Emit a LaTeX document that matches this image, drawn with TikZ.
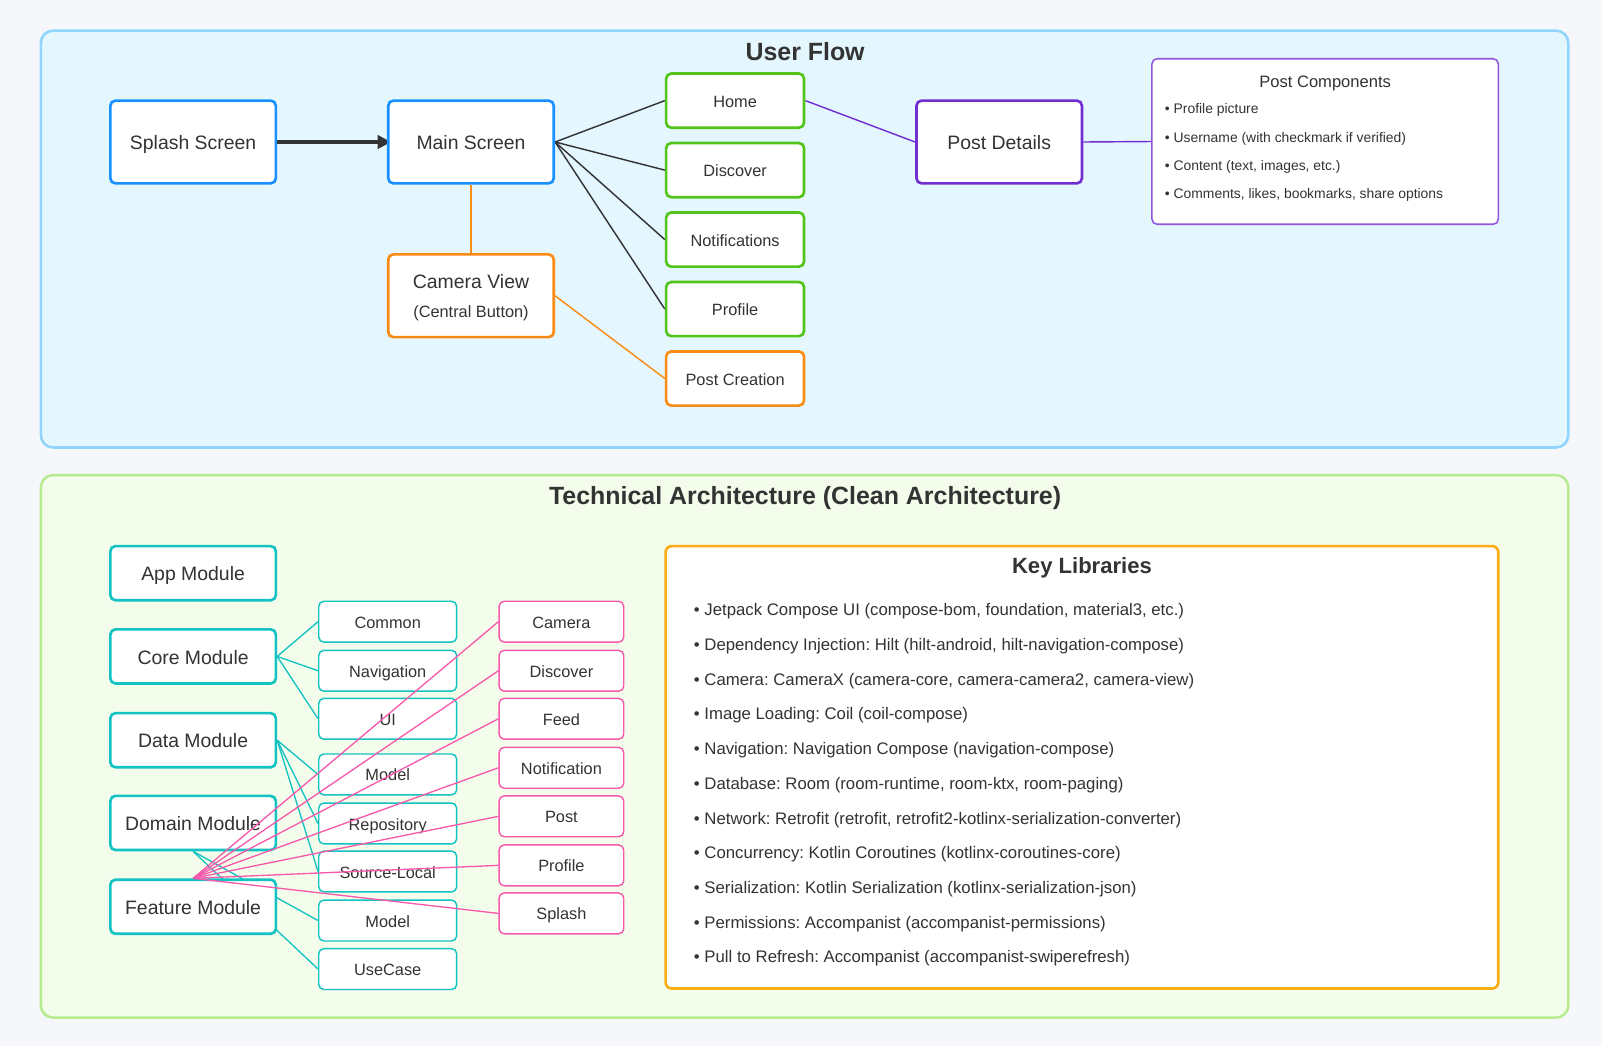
\documentclass[tikz,border=0pt]{standalone}
\usepackage{fontspec}
\setmainfont{Liberation Sans}
\usetikzlibrary{arrows.meta}
\definecolor{txt}{HTML}{333333}
\definecolor{pagebg}{HTML}{F5F7FA}
\definecolor{ufill}{HTML}{E4F6FE}
\definecolor{uborder}{HTML}{91D5FF}
\definecolor{tfill}{HTML}{F4FDEB}
\definecolor{tborder}{HTML}{B7EB8F}
\definecolor{cblue}{HTML}{1890FF}
\definecolor{corange}{HTML}{FA8C16}
\definecolor{cgreen}{HTML}{52C41A}
\definecolor{cpurple}{HTML}{722ED1}
\definecolor{cpurplelt}{HTML}{9254DE}
\definecolor{cteal}{HTML}{13C2C2}
\definecolor{cpink}{HTML}{F759AB}
\definecolor{cgold}{HTML}{FAAD14}
\pgfdeclarelayer{back}
\pgfdeclarelayer{edge}
\pgfdeclarelayer{top}
\pgfsetlayers{back,edge,main,top}
\frenchspacing
\begin{document}
\frenchspacing
\begin{tikzpicture}[x=1pt,y=-1pt,
  tc/.style={text height=#1, text depth=0pt},
  panel/.style={rounded corners=12pt, line width=2.5pt, inner sep=0pt},
  ptitle/.style={tc=19.5pt, font=\bfseries\fontsize{24.4}{29}\selectfont, text=txt, inner sep=0pt},
  bigbase/.style={draw, rounded corners=5pt, fill=white, line width=2.6pt,
    minimum width=162pt, minimum height=81pt, text=txt, align=center,
    font=\fontsize{19}{23}\selectfont, inner sep=0pt},
  bigbox/.style={bigbase, tc=15.2pt},
  modbox/.style={bigbox, draw=cteal, minimum height=53pt},
  scrbox/.style={tc=12.8pt, draw, rounded corners=5pt, fill=white, line width=2.6pt,
    minimum width=135pt, minimum height=53pt, text=txt,
    font=\fontsize{16}{19}\selectfont, inner sep=0pt},
  subbox/.style={tc=12.8pt, draw=cteal, rounded corners=5pt, fill=white, line width=1.4pt,
    minimum width=135pt, minimum height=40pt, text=txt,
    font=\fontsize{16}{19}\selectfont, inner sep=0pt},
  featbox/.style={subbox, draw=cpink, minimum width=122pt},
  txtnode/.style={text=txt, inner sep=0pt, anchor=west},
  flowline/.style={draw=txt, line width=1.4pt},
  tealline/.style={draw=cteal, line width=1.3pt},
  pinkline/.style={draw=cpink, line width=1.3pt}
]
\useasboundingbox (0,0) rectangle (1568,1024);
\begin{pgfonlayer}{back}
  \fill[pagebg] (0,0) rectangle (1568,1024);
  \node[panel, draw=uborder, fill=ufill, minimum width=1495pt, minimum height=408pt] (ufpanel) at (787.5,234) {};
  \node[panel, draw=tborder, fill=tfill, minimum width=1495pt, minimum height=531pt] (tapanel) at (787.5,730.5) {};
\end{pgfonlayer}

% ---------- User Flow ----------
\node[ptitle] (uftitle) at (788,49) {User Flow};

\node[bigbox, draw=cblue] (splash) at (189,139) {Splash Screen};
\node[bigbox, draw=cblue] (main) at (461,139) {Main Screen};
\node[bigbase, draw=corange, text depth=0pt] (camview) at (461,289.5)
  {Camera View\\[5pt]{\fontsize{16}{19}\selectfont (Central Button)}};

\node[scrbox, draw=cgreen] (home) at (719.5,98.5) {Home};
\node[scrbox, draw=cgreen] (discover) at (719.5,166.5) {Discover};
\node[scrbox, draw=cgreen] (notif) at (719.5,234.5) {Notifications};
\node[scrbox, draw=cgreen] (profile) at (719.5,302.5) {Profile};
\node[scrbox, draw=corange] (postcre) at (719.5,370.5) {Post Creation};

\node[bigbox, draw=cpurple] (postdet) at (978,139) {Post Details};

\node[draw=cpurplelt, rounded corners=5pt, fill=white, line width=1.5pt,
  minimum width=339pt, minimum height=162pt, inner sep=0pt] (postcomp) at (1297,138.5) {};
\node[tc=13pt, text=txt, inner sep=0pt, font=\fontsize{16.2}{19}\selectfont] (pctitle) at (1297,79) {Post Components};
\begin{scope}[every node/.style={txtnode, tc=10.9pt, font=\fontsize{13.6}{16}\selectfont}]
\node (pc1) at (1140,106) {• Profile picture};
\node (pc2) at (1140,134) {• Username (with checkmark if verified)};
\node (pc3) at (1140,161) {• Content (text, images, etc.)};
\node (pc4) at (1140,189) {• Comments, likes, bookmarks, share options};
\end{scope}

\begin{pgfonlayer}{edge}
  \draw[txt, line width=3pt, -{Triangle[length=13pt,width=13pt]}] (splash.east) -- ([xshift=4pt]main.west);
  \draw[flowline] (main.east) -- (home.west);
  \draw[flowline] (main.east) -- (discover.west);
  \draw[flowline] (main.east) -- (notif.west);
  \draw[flowline] (main.east) -- (profile.west);
  \draw[draw=corange, line width=1.4pt] (main.south) -- (camview.north);
  \draw[draw=corange, line width=1.4pt] (camview.east) -- (postcre.west);
  \draw[draw=cpurple, line width=1.4pt] (home.east) -- (postdet.west);
  \draw[draw=cpurple, line width=1.4pt] (postdet.east) -- (postcomp.west);
\end{pgfonlayer}

% ---------- Technical Architecture ----------
\node[ptitle] (tatitle) at (788,484) {Technical Architecture (Clean Architecture)};

\node[modbox] (app) at (189,561) {App Module};
\node[modbox] (core) at (189,642.5) {Core Module};
\node[modbox] (data) at (189,724.5) {Data Module};
\node[modbox] (domain) at (189,805.5) {Domain Module};
\node[modbox] (feature) at (189,887.5) {Feature Module};

\node[subbox] (common) at (379.5,608.5) {Common};
\node[subbox] (navig) at (379.5,656.5) {Navigation};
\node[subbox] (ui) at (379.5,703.5) {UI};
\node[subbox] (dmodel) at (379.5,758) {Model};
\node[subbox] (repo) at (379.5,806) {Repository};
\node[subbox] (srclocal) at (379.5,853) {Source-Local};
\node[subbox] (mmodel) at (379.5,901) {Model};
\node[subbox] (usecase) at (379.5,948.5) {UseCase};

\node[featbox] (fcamera) at (549.5,608.5) {Camera};
\node[featbox] (fdiscover) at (549.5,656.5) {Discover};
\node[featbox] (ffeed) at (549.5,703.5) {Feed};
\node[featbox] (fnotif) at (549.5,751.5) {Notification};
\node[featbox] (fpost) at (549.5,799) {Post};
\node[featbox] (fprofile) at (549.5,847) {Profile};
\node[featbox] (fsplash) at (549.5,894) {Splash};

\begin{pgfonlayer}{edge}
  \draw[tealline] (core.east) -- (common.west);
  \draw[tealline] (core.east) -- (navig.west);
  \draw[tealline] (core.east) -- (ui.west);
  \draw[tealline] (data.east) -- (dmodel.west);
  \draw[tealline] (data.east) -- (repo.west);
  \draw[tealline] (data.east) -- (srclocal.west);
  \draw[tealline] (domain.south) -- (mmodel.west);
  \draw[tealline] (domain.south) -- (usecase.west);
\end{pgfonlayer}

\begin{pgfonlayer}{top}
  \foreach \t in {fcamera,fdiscover,ffeed,fnotif,fpost,fprofile,fsplash}
    \draw[pinkline] (feature.north) -- (\t.west);
\end{pgfonlayer}

\node[draw=cgold, rounded corners=6pt, fill=white, line width=2.6pt,
  minimum width=815pt, minimum height=433pt, inner sep=0pt] (keylib) at (1059,751) {};
\node[tc=17.3pt, text=txt, inner sep=0pt, font=\bfseries\fontsize{21.6}{25}\selectfont] (kltitle) at (1059,553) {Key Libraries};
\begin{scope}[every node/.style={txtnode, tc=13.1pt, font=\fontsize{16.4}{19}\selectfont}]
\node (lib1) at (679,596) {• Jetpack Compose UI (compose-bom, foundation, material3, etc.)};
\node (lib2) at (679,630) {• Dependency Injection: Hilt (hilt-android, hilt-navigation-compose)};
\node (lib3) at (679,664) {• Camera: CameraX (camera-core, camera-camera2, camera-view)};
\node (lib4) at (679,698) {• Image Loading: Coil (coil-compose)};
\node (lib5) at (679,732) {• Navigation: Navigation Compose (navigation-compose)};
\node (lib6) at (679,766) {• Database: Room (room-runtime, room-ktx, room-paging)};
\node (lib7) at (679,800) {• Network: Retrofit (retrofit, retrofit2-kotlinx-serialization-converter)};
\node (lib8) at (679,834) {• Concurrency: Kotlin Coroutines (kotlinx-coroutines-core)};
\node (lib9) at (679,868) {• Serialization: Kotlin Serialization (kotlinx-serialization-json)};
\node (lib10) at (679,902) {• Permissions: Accompanist (accompanist-permissions)};
\node (lib11) at (679,936) {• Pull to Refresh: Accompanist (accompanist-swiperefresh)};
\end{scope}
\end{tikzpicture}
\end{document}
